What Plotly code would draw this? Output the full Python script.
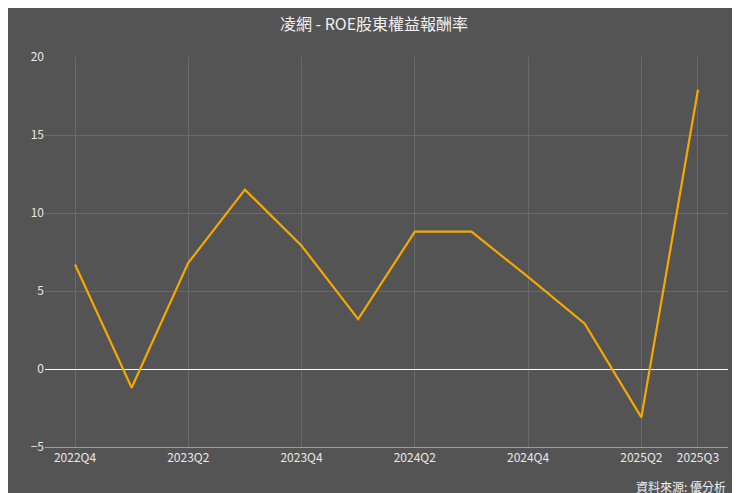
import plotly.graph_objects as go

quarters = ["2022Q4", "2023Q1", "2023Q2", "2023Q3", "2023Q4", "2024Q1",
            "2024Q2", "2024Q3", "2024Q4", "2025Q1", "2025Q2", "2025Q3"]
roe = [6.7, -1.2, 6.8, 11.5, 7.9, 3.2, 8.8, 8.8, 5.9, 2.9, -3.1, 17.9]
tick_labels = ["2022Q4", "2023Q2", "2023Q4", "2024Q2", "2024Q4", "2025Q2", "2025Q3"]

bg = "#545454"
font = "Noto Sans CJK TC"

fig = go.Figure(go.Scatter(
    x=quarters, y=roe, mode="lines",
    line=dict(color="#f5a800", width=2.2),
    hovertemplate="%{x}: %{y}<extra></extra>",
))

fig.update_layout(
    width=732, height=485,
    paper_bgcolor=bg, plot_bgcolor=bg,
    margin=dict(l=37, r=12, t=49, b=46),
    title=dict(text="凌網 - ROE股東權益報酬率", x=0.5, y=0.978,
               font=dict(family=font, size=16, color="#f0f0f0")),
    font=dict(family=font, color="#e8e8e8", size=12),
    showlegend=False,
)
fig.update_xaxes(
    type="category", range=[-0.53, 11.53], automargin=False,
    tickmode="array", tickvals=tick_labels, ticktext=tick_labels,
    showgrid=True, gridcolor="#6a6a6a", gridwidth=1,
    showline=True, linecolor="#8a9ad8", zeroline=False, ticks="",
)
fig.update_yaxes(
    range=[-5, 20], tickvals=[-5, 0, 5, 10, 15, 20], automargin=False,
    showgrid=True, gridcolor="#6a6a6a",
    zeroline=True, zerolinecolor="#ffffff", zerolinewidth=1.2,
    ticks="",
)
fig.add_annotation(text="資料來源: 優分析", xref="paper", yref="paper",
                   x=1.0, y=-0.1, xanchor="right", yanchor="middle",
                   showarrow=False, font=dict(family=font, size=12, color="#f0f0f0"))

fig.write_html("out.html")
